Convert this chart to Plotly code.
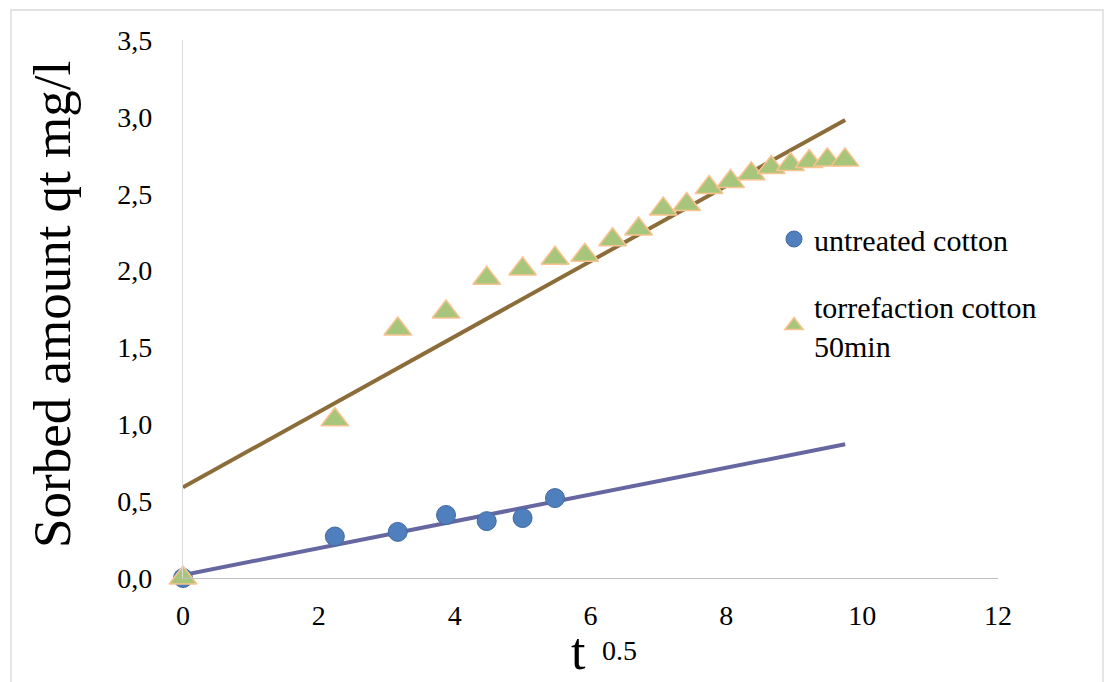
import plotly.graph_objects as go

# ---- data ----
sqrt_t = [0.0, 2.236, 3.162, 3.873, 4.472, 5.0, 5.477, 5.916, 6.325, 6.708,
          7.071, 7.416, 7.746, 8.062, 8.367, 8.660, 8.944, 9.220, 9.487, 9.747]
untreated_x = sqrt_t[:7]
untreated_y = [0.0, 0.27, 0.30, 0.41, 0.37, 0.39, 0.52]
torrefied_y = [0.0, 1.03, 1.62, 1.73, 1.95, 2.01, 2.08, 2.10, 2.20, 2.27,
               2.40, 2.43, 2.54, 2.58, 2.63, 2.67, 2.69, 2.71, 2.72, 2.72]
trend_x = [0.0, 9.75]
trend_untreated = [0.02, 0.87]
trend_torrefied = [0.59, 2.98]
y_ticks = [0.0, 0.5, 1.0, 1.5, 2.0, 2.5, 3.0, 3.5]
y_tick_labels = ["0,0", "0,5", "1,0", "1,5", "2,0", "2,5", "3,0", "3,5"]
x_ticks = [0, 2, 4, 6, 8, 10, 12]
name_untreated = "untreated cotton"
name_torrefied = "torrefaction cotton<br>50min"

FONT = "Liberation Serif"

fig = go.Figure()
fig.add_trace(go.Scatter(x=trend_x, y=trend_untreated, mode="lines",
                         line=dict(color="#6667a0", width=4),
                         showlegend=False, hoverinfo="skip", cliponaxis=False))
fig.add_trace(go.Scatter(x=trend_x, y=trend_torrefied, mode="lines",
                         line=dict(color="#8c6d3a", width=4),
                         showlegend=False, hoverinfo="skip", cliponaxis=False))
fig.add_trace(go.Scatter(x=untreated_x, y=untreated_y, mode="markers",
                         name=name_untreated, legendgroup="a", cliponaxis=False,
                         marker=dict(symbol="circle", size=19, color="#4f7fbd",
                                     line=dict(color="#3f6aa3", width=1))))
fig.add_trace(go.Scatter(x=sqrt_t, y=torrefied_y, mode="markers",
                         name=name_torrefied, legendgroup="b", cliponaxis=False,
                         marker=dict(symbol="triangle-up", size=24, color="#a8c67b",
                                     line=dict(color="#f9c28e", width=1.5))))

W, H = 1105, 682
L, R, T, B = 183, 107, 40, 104
pw, ph = W - L - R, H - T - B


def px(x):
    return (x - L) / pw


def py(y):
    return (H - B - y) / ph


fig.update_layout(
    width=W, height=H,
    margin=dict(l=L, r=R, t=T, b=B),
    paper_bgcolor="white", plot_bgcolor="white",
    font=dict(family=FONT, color="black", size=28),
    xaxis=dict(range=[0, 12], tickvals=x_ticks, showgrid=False, zeroline=False,
               showline=True, linecolor="#bfbfbf", linewidth=1.3, ticks="",
               ticklabelstandoff=12, tickfont=dict(size=28, family=FONT)),
    yaxis=dict(range=[0, 3.5], tickvals=y_ticks, ticktext=y_tick_labels,
               showgrid=False, zeroline=False, showline=True,
               linecolor="#d9d9d9", linewidth=1.3, ticks="",
               ticklabelstandoff=24, tickfont=dict(size=28, family=FONT)),
    legend=dict(x=px(774), y=py(213), xanchor="left", yanchor="top",
                bgcolor="rgba(0,0,0,0)", font=dict(size=30, family=FONT),
                traceorder="grouped", tracegroupgap=25, itemwidth=30),
    shapes=[dict(type="rect", xref="paper", yref="paper",
                 x0=px(11), x1=px(1103), y0=py(700), y1=py(10),
                 line=dict(color="#d9d9d9", width=1.3), layer="below")],
    annotations=[
        dict(text="Sorbed amount qt mg/l", xref="paper", yref="paper",
             x=px(52), y=py(305), xanchor="center", yanchor="middle",
             textangle=-90, showarrow=False, font=dict(size=53, family=FONT)),
        dict(text="t", xref="paper", yref="paper",
             x=px(578), y=py(681), xanchor="center", yanchor="bottom",
             showarrow=False, borderpad=0, font=dict(size=52, family=FONT)),
        dict(text="0.5", xref="paper", yref="paper",
             x=px(619), y=py(650), xanchor="center", yanchor="middle",
             showarrow=False, font=dict(size=28, family=FONT)),
    ],
)

fig.write_html("out.html")
